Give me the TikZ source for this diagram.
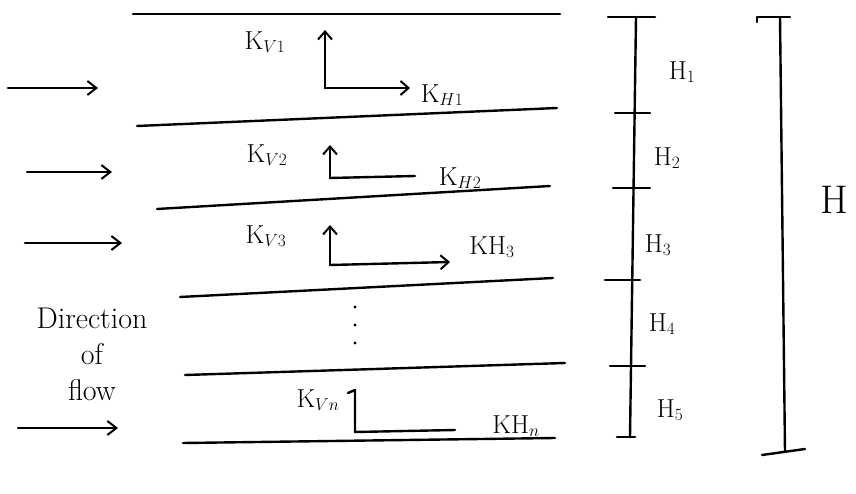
\documentclass[tikz,border=0pt]{standalone}
\usetikzlibrary{arrows.meta}
\begin{document}
\begin{tikzpicture}[x=1pt,y=-1pt,
  ink/.style={line width=2.4pt,line cap=round,line join=round,black},
  flowarrow/.style={ink,-{Straight Barb[length=9pt,width=14pt,line width=2pt]}},
  karrow/.style={ink,-{Straight Barb[length=8pt,width=14pt,line width=2pt]}},
  lbl/.style={font=\fontsize{26}{30}\selectfont,inner sep=0pt},
  big/.style={font=\fontsize{40}{44}\selectfont,inner sep=0pt}]
\useasboundingbox (0,0) rectangle (856,494);
% layer boundaries
\coordinate (a0) at (133,14);  \coordinate (b0) at (560,14);
\coordinate (a1) at (137,126); \coordinate (b1) at (557,108);
\coordinate (a2) at (157,209); \coordinate (b2) at (550,186);
\coordinate (a3) at (180,297); \coordinate (b3) at (553,278);
\coordinate (a4) at (185,375); \coordinate (b4) at (565,363);
\coordinate (a5) at (183,443); \coordinate (b5) at (555,438);
\foreach \i in {0,...,5} \draw[ink] (a\i) -- (b\i);
% flow arrows
\coordinate (f1s) at (8,88);   \coordinate (f1e) at (98,88);
\coordinate (f2s) at (27,172); \coordinate (f2e) at (112,172);
\coordinate (f3s) at (25,243); \coordinate (f3e) at (122,243);
\coordinate (f4s) at (18,428); \coordinate (f4e) at (118,428);
\foreach \i in {1,...,4} \draw[flowarrow] (f\i s) -- (f\i e);
\node[lbl,align=center,font=\fontsize{30}{36}\selectfont] (dir) at (92,354) {Direction\\of\\flow};
% layer 1
\coordinate (o1) at (325,88);
\coordinate (v1) at (325,30);
\coordinate (h1) at (410,88);
\draw[karrow] (o1) -- (v1);
\draw[karrow] (o1) -- (h1);
\node[lbl] (kv1) at (265,42) {K$_{V1}$};
\node[lbl] (kh1) at (442,95) {K$_{H1}$};
% layer 2
\coordinate (o2) at (330,178);
\coordinate (v2) at (330,145);
\coordinate (h2) at (415,176);
\draw[karrow] (o2) -- (v2);
\draw[ink] (o2) -- (h2);
\node[lbl] (kv2) at (267,155) {K$_{V2}$};
\node[lbl] (kh2) at (460,178) {K$_{H2}$};
% layer 3
\coordinate (o3) at (330,265);
\coordinate (v3) at (330,225);
\coordinate (h3) at (450,262);
\draw[karrow] (o3) -- (v3);
\draw[karrow] (o3) -- (h3);
\node[lbl] (kv3) at (266,236) {K$_{V3}$};
\node[lbl] (kh3) at (492,247) {KH$_3$};
% dots
\foreach \yy in {307,325,343} \fill (355,\yy) circle (1.6pt);
% layer n
\coordinate (on) at (355,432);
\coordinate (vn) at (355,390);
\coordinate (hn) at (455,430);
\draw[ink] (348,393) -- (vn) -- (on) -- (hn);
\node[lbl] (kvn) at (318,400) {K$_{Vn}$};
\node[lbl] (khn) at (516,426) {KH$_n$};
% scale H1..H5
\coordinate (s0) at (636,17); \coordinate (s5) at (630,437);
\draw[ink] (s0) -- (s5);
\draw[ink] (608,17) -- (655,17);
\draw[ink] (615,113) -- (650,113);
\draw[ink] (613,188) -- (650,188);
\draw[ink] (605,280) -- (640,280);
\draw[ink] (610,366) -- (645,366);
\draw[ink] (617,437) -- (635,437);
\node[lbl] (H1) at (682,72) {H$_1$};
\node[lbl] (H2) at (667,158) {H$_2$};
\node[lbl] (H3) at (658,245) {H$_3$};
\node[lbl] (H4) at (662,324) {H$_4$};
\node[lbl] (H5) at (670,410) {H$_5$};
% total H
\coordinate (t0) at (780,17); \coordinate (t1) at (785,452);
\draw[ink] (t0) -- (t1);
\draw[ink] (757,22) -- (757,17) -- (790,17);
\draw[ink] (762,455) -- (805,449);
\node[big] (Htot) at (834,200) {H};
\end{tikzpicture}
\end{document}
